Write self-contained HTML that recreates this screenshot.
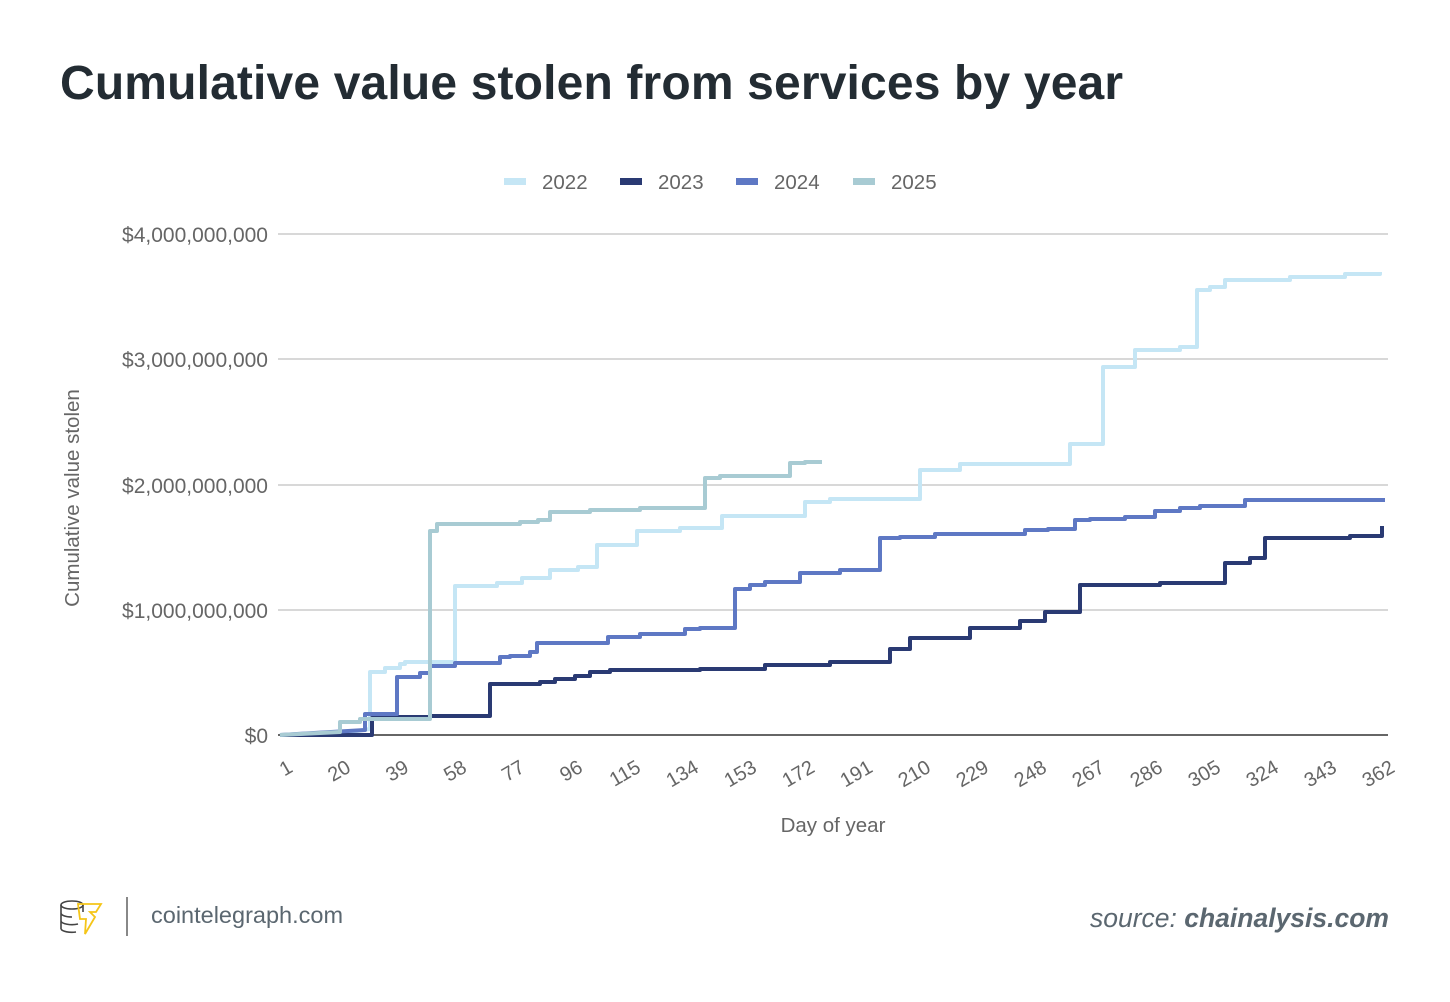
<!DOCTYPE html>
<html><head><meta charset="utf-8"><style>
body{margin:0;background:#fff;width:1450px;height:997px;overflow:hidden;font-family:"Liberation Sans",sans-serif}
</style></head><body>
<svg width="1450" height="997" xmlns="http://www.w3.org/2000/svg" font-family="Liberation Sans, sans-serif">
<text x="60" y="99" font-size="48" font-weight="bold" fill="#232c33" letter-spacing="0.15">Cumulative value stolen from services by year</text>
<g font-size="20.5" fill="#666">
<rect x="504" y="178" width="22" height="7" fill="#c5e6f5"/><text x="542" y="189">2022</text>
<rect x="620" y="178" width="22" height="7" fill="#2a3a73"/><text x="658" y="189">2023</text>
<rect x="736" y="178" width="22" height="7" fill="#5e78c4"/><text x="774" y="189">2024</text>
<rect x="853" y="178" width="22" height="7" fill="#a8cbd3"/><text x="891" y="189">2025</text>
</g>
<g stroke="#ccc" stroke-width="1.5">
<line x1="278" y1="234" x2="1388" y2="234"/><line x1="278" y1="359" x2="1388" y2="359"/>
<line x1="278" y1="485" x2="1388" y2="485"/><line x1="278" y1="610" x2="1388" y2="610"/>
</g>
<line x1="278" y1="735" x2="1388" y2="735" stroke="#333" stroke-width="1.5"/>
<g font-size="21" fill="#666" text-anchor="end">
<text x="268" y="242">$4,000,000,000</text><text x="268" y="367">$3,000,000,000</text>
<text x="268" y="493">$2,000,000,000</text><text x="268" y="618">$1,000,000,000</text>
<text x="268" y="743">$0</text>
</g>
<text transform="translate(79,498) rotate(-90)" font-size="20.5" fill="#666" text-anchor="middle">Cumulative value stolen</text>
<g font-size="20" fill="#666" text-anchor="end">
<text transform="translate(294,771) rotate(-30)">1</text>
<text transform="translate(352,771) rotate(-30)">20</text>
<text transform="translate(410,771) rotate(-30)">39</text>
<text transform="translate(468,771) rotate(-30)">58</text>
<text transform="translate(526,771) rotate(-30)">77</text>
<text transform="translate(584,771) rotate(-30)">96</text>
<text transform="translate(642,771) rotate(-30)">115</text>
<text transform="translate(700,771) rotate(-30)">134</text>
<text transform="translate(758,771) rotate(-30)">153</text>
<text transform="translate(816,771) rotate(-30)">172</text>
<text transform="translate(874,771) rotate(-30)">191</text>
<text transform="translate(932,771) rotate(-30)">210</text>
<text transform="translate(990,771) rotate(-30)">229</text>
<text transform="translate(1048,771) rotate(-30)">248</text>
<text transform="translate(1106,771) rotate(-30)">267</text>
<text transform="translate(1164,771) rotate(-30)">286</text>
<text transform="translate(1222,771) rotate(-30)">305</text>
<text transform="translate(1280,771) rotate(-30)">324</text>
<text transform="translate(1338,771) rotate(-30)">343</text>
<text transform="translate(1396,771) rotate(-30)">362</text>
</g>
<text x="833" y="832" font-size="20.5" fill="#666" text-anchor="middle">Day of year</text>
<g fill="none" stroke-width="4" stroke-linejoin="round">
<path stroke="#c5e6f5" d="M280,735 H330 L370,729 V672 H385 V668 H400 V664 H405 V662 H455 V586 H497 V583 H522 V578 H550 V570 H578 V567 H597 V545 H637 V531 H680 V528 H722 V516 H805 V502 H830 V499 H920 V470 H960 V464 H1070 V444 H1103 V367 H1135 V350 H1180 V347 H1197 V290 H1210 V287 H1225 V280 H1290 V277 H1345 V274 H1380 V272"/>
<path stroke="#2a3a73" d="M280,735 H372 V718 H388 V717 H430 V716 H490 V684 H540 V682 H555 V679 H575 V676 H590 V672 H610 V670 H700 V669 H765 V665 H830 V662 H890 V649 H910 V638 H970 V628 H1020 V621 H1045 V612 H1080 V585 H1160 V583 H1225 V563 H1250 V558 H1265 V538 H1350 V536 H1382 V526"/>
<path stroke="#5e78c4" d="M280,735 L365,730 V714 H397 V677 H420 V673 H430 V666 H455 V663 H500 V657 H510 V656 H530 V652 H537 V643 H608 V637 H640 V634 H685 V629 H700 V628 H735 V589 H750 V585 H765 V582 H800 V573 H840 V570 H880 V538 H900 V537 H935 V534 H1025 V530 H1048 V529 H1075 V520 H1090 V519 H1125 V517 H1155 V511 H1180 V508 H1200 V506 H1245 V500 H1385"/>
<path stroke="#a8cbd3" d="M280,735 L340,732 V722 H360 V719 H430 V531 H437 V524 H520 V522 H538 V520 H550 V512 H590 V510 H640 V508 H705 V478 H720 V476 H790 V463 H805 V462 H822"/>
</g>
<g fill="none" stroke="#444" stroke-width="1.6">
<ellipse cx="72" cy="905" rx="11" ry="4"/>
<path d="M61,905 V929 M83,905 V912 M61,913 A11,4 0 0 0 72,917 M61,921 A11,4 0 0 0 78,924 M61,929 A11,4 0 0 0 76,932"/>
</g>
<path d="M78,904 H101 L96,912 H90 L95,917 L85,934 L86,919 H80 Z" fill="none" stroke="#f5c518" stroke-width="1.8"/>
<line x1="127" y1="897" x2="127" y2="936" stroke="#888" stroke-width="2"/>
<text x="151" y="923" font-size="23.5" fill="#5b6770">cointelegraph.com</text>
<text x="1389" y="927" font-size="26.5" fill="#5b6770" text-anchor="end"><tspan font-style="italic">source: </tspan><tspan font-style="italic" font-weight="bold">chainalysis.com</tspan></text>
</svg>
</body></html>
